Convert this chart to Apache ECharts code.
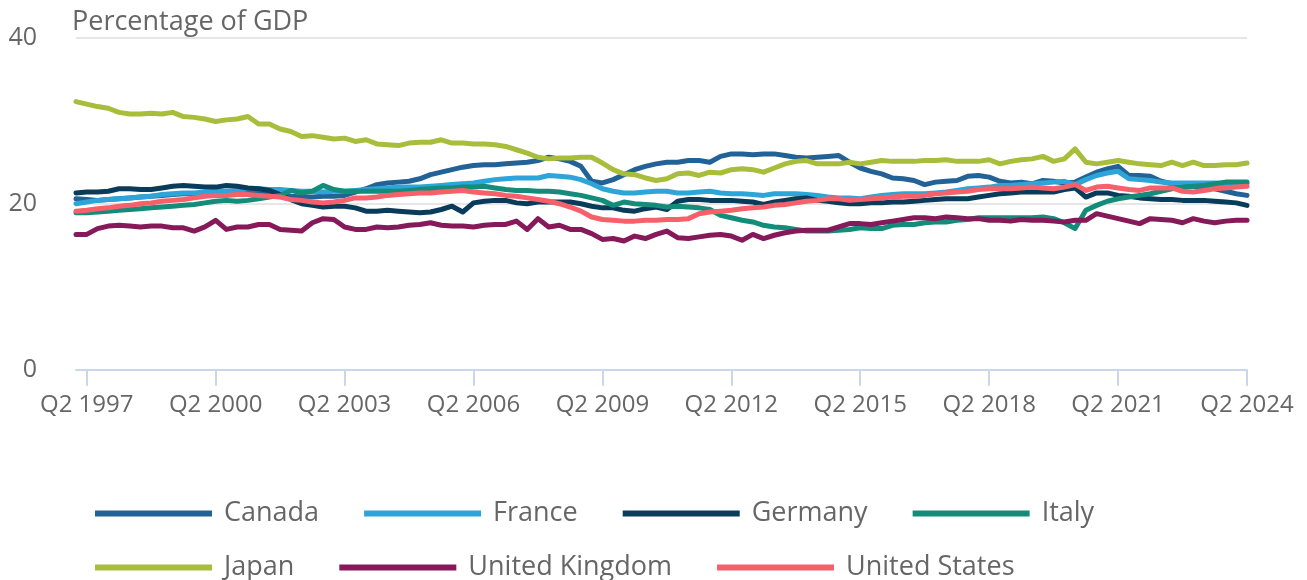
<!DOCTYPE html>
<html>
<head>
<meta charset="utf-8">
<script src="https://cdn.jsdelivr.net/npm/echarts@6/dist/echarts.min.js"></script>
<style>
html,body{margin:0;padding:0;background:#fff;}
#chart{width:1307px;height:580px;}
</style>
</head>
<body>
<div id="chart"></div>
<script>
// Quarterly categories Q1 1997 .. Q2 2024
const firstYear = 1997, lastYear = 2024, lastQuarter = 2;
const categories = [];
for (let y = firstYear; y <= lastYear; y++) {
  for (let q = 1; q <= 4; q++) {
    if (y === lastYear && q > lastQuarter) break;
    categories.push('Q' + q + ' ' + y);
  }
}
const yTicks = [0, 20, 40];
const axisTitle = 'Percentage of GDP';
const seriesNames = ['Canada', 'France', 'Germany', 'Italy', 'Japan', 'United Kingdom', 'United States'];

const canada = [
20.6,20.5,20.4,20.5,20.6,20.7,20.8,20.9,21.0,21.1,
21.2,21.2,21.3,21.4,21.4,21.5,21.5,21.4,21.3,21.1,
20.9,20.8,20.8,20.9,20.9,21.0,21.4,21.8,22.3,22.5,
22.6,22.7,23.0,23.5,23.8,24.1,24.4,24.6,24.7,24.7,
24.8,24.9,25.0,25.2,25.6,25.4,25.1,24.5,22.7,22.5,
22.9,23.5,24.1,24.5,24.8,25.0,25.0,25.2,25.2,25.0,
25.7,26.0,26.0,25.9,26.0,26.0,25.8,25.6,25.5,25.6,
25.7,25.8,25.0,24.3,23.9,23.6,23.1,23.0,22.8,22.3,
22.6,22.7,22.8,23.3,23.4,23.2,22.7,22.5,22.6,22.4,
22.8,22.7,22.5,22.6,23.2,23.8,24.2,24.5,23.4,23.4,
23.3,22.7,22.4,22.2,22.1,22.0,21.8,21.5,21.2,21.0];
const france = [
20.0,20.2,20.4,20.5,20.6,20.7,20.8,20.9,21.1,21.2,
21.3,21.3,21.4,21.5,21.5,21.6,21.8,21.8,21.7,21.7,
21.6,21.5,21.5,21.4,21.5,21.5,21.6,21.7,21.8,21.9,
22.0,22.0,22.0,22.1,22.2,22.3,22.4,22.5,22.7,22.9,
23.0,23.1,23.1,23.1,23.4,23.3,23.2,22.9,22.4,21.8,
21.5,21.3,21.3,21.4,21.5,21.5,21.3,21.3,21.4,21.5,
21.3,21.2,21.2,21.1,21.0,21.2,21.2,21.2,21.1,21.0,
20.8,20.7,20.7,20.6,20.8,21.0,21.1,21.2,21.2,21.2,
21.3,21.4,21.6,21.8,21.9,22.0,22.2,22.2,22.3,22.4,
22.5,22.6,22.7,22.3,22.9,23.4,23.7,23.9,23.0,22.9,
22.8,22.6,22.5,22.5,22.5,22.5,22.5,22.4,22.4,22.4];
const germany = [
21.3,21.4,21.4,21.5,21.8,21.8,21.7,21.7,21.9,22.1,
22.2,22.1,22.0,22.0,22.2,22.1,21.9,21.8,21.6,21.1,
20.5,20.0,19.8,19.6,19.7,19.7,19.5,19.1,19.1,19.2,
19.1,19.0,18.9,19.0,19.3,19.7,19.0,20.1,20.3,20.4,
20.4,20.1,20.0,20.2,20.2,20.2,20.2,20.0,19.7,19.5,
19.5,19.2,19.1,19.4,19.6,19.3,20.3,20.5,20.5,20.4,
20.4,20.4,20.3,20.2,19.9,20.2,20.4,20.6,20.7,20.4,
20.3,20.1,20.0,20.0,20.1,20.1,20.2,20.2,20.3,20.4,
20.5,20.6,20.6,20.6,20.8,21.0,21.2,21.3,21.4,21.4,
21.4,21.4,21.7,21.9,20.8,21.3,21.3,21.0,20.9,20.7,
20.6,20.5,20.5,20.4,20.4,20.4,20.3,20.2,20.1,19.8];
const italy = [
18.9,18.9,19.0,19.1,19.2,19.3,19.4,19.5,19.6,19.7,
19.8,19.9,20.1,20.3,20.4,20.3,20.4,20.6,20.8,21.0,
21.6,21.3,21.5,22.2,21.7,21.5,21.5,21.5,21.5,21.5,
21.5,21.6,21.7,21.8,21.9,21.9,22.0,22.0,22.1,21.9,
21.7,21.6,21.6,21.5,21.5,21.4,21.2,21.0,20.7,20.4,
19.8,20.2,20.0,19.9,19.8,19.6,19.7,19.6,19.5,19.3,
18.6,18.3,18.0,17.8,17.4,17.2,17.1,16.9,16.7,16.7,
16.7,16.8,16.9,17.1,17.0,17.0,17.4,17.5,17.5,17.7,
17.8,17.8,18.0,18.1,18.3,18.3,18.3,18.3,18.3,18.3,
18.4,18.2,17.7,17.0,19.2,19.8,20.3,20.6,20.8,21.0,
21.2,21.5,21.8,22.0,22.1,22.2,22.4,22.6,22.6,22.6];
const japan = [
32.3,32.0,31.7,31.5,31.0,30.8,30.8,30.9,30.8,31.0,
30.5,30.4,30.2,29.9,30.1,30.2,30.5,29.6,29.6,29.0,
28.7,28.1,28.2,28.0,27.8,27.9,27.5,27.7,27.2,27.1,
27.0,27.3,27.4,27.4,27.7,27.3,27.3,27.2,27.2,27.1,
26.9,26.5,26.1,25.6,25.4,25.5,25.5,25.6,25.6,24.9,
24.1,23.6,23.5,23.1,22.8,23.0,23.6,23.7,23.4,23.8,
23.7,24.1,24.2,24.1,23.8,24.3,24.8,25.1,25.2,24.8,
24.8,24.8,25.0,24.8,25.0,25.2,25.1,25.1,25.1,25.2,
25.2,25.3,25.1,25.1,25.1,25.3,24.8,25.1,25.3,25.4,
25.7,25.1,25.4,26.6,25.0,24.8,25.0,25.2,25.0,24.8,
24.7,24.6,25.0,24.6,25.0,24.6,24.6,24.7,24.7,24.9];
const unitedKingdom = [
16.3,16.3,17.0,17.3,17.4,17.3,17.2,17.3,17.3,17.1,
17.1,16.7,17.2,18.0,16.9,17.2,17.2,17.5,17.5,16.9,
16.8,16.7,17.7,18.2,18.1,17.2,16.9,16.9,17.2,17.1,
17.2,17.4,17.5,17.7,17.4,17.3,17.3,17.2,17.4,17.5,
17.5,17.9,16.9,18.2,17.2,17.4,16.9,16.9,16.4,15.7,
15.8,15.5,16.1,15.8,16.3,16.7,15.9,15.8,16.0,16.2,
16.3,16.1,15.6,16.3,15.8,16.2,16.5,16.7,16.8,16.8,
16.8,17.2,17.6,17.6,17.5,17.7,17.9,18.1,18.3,18.3,
18.2,18.4,18.3,18.2,18.2,18.0,18.0,17.9,18.1,18.0,
18.0,17.9,17.8,18.0,18.0,18.8,18.5,18.2,17.9,17.6,
18.2,18.1,18.0,17.7,18.2,17.9,17.7,17.9,18.0,18.0];
const unitedStates = [
19.1,19.2,19.4,19.5,19.7,19.8,20.0,20.1,20.3,20.4,
20.5,20.7,20.9,21.0,21.0,21.1,21.1,21.0,20.9,20.8,
20.5,20.4,20.2,20.1,20.2,20.4,20.7,20.7,20.8,21.0,
21.1,21.2,21.3,21.3,21.4,21.5,21.6,21.4,21.3,21.2,
21.0,20.9,20.7,20.5,20.3,20.0,19.6,19.1,18.4,18.1,
18.0,17.9,17.9,18.0,18.0,18.1,18.1,18.2,18.8,19.0,
19.1,19.2,19.4,19.5,19.6,19.8,19.9,20.1,20.3,20.4,
20.6,20.6,20.4,20.5,20.6,20.7,20.8,20.9,20.9,21.0,
21.2,21.3,21.4,21.5,21.7,21.8,21.8,21.8,21.9,22.0,
21.9,21.8,22.0,22.3,21.6,22.0,22.1,21.9,21.7,21.6,
21.9,21.9,21.9,21.5,21.4,21.6,21.8,21.9,22.0,22.1];

const seriesValues = [canada, france, germany, italy, japan, unitedKingdom, unitedStates];
const colors = ['#226296', '#2ea5d8', '#083c5a', '#138c7a', '#a8be3a', '#85195a', '#f5606a'];

const FONT = '"Open Sans", "Noto Sans", sans-serif';
const chart = echarts.init(document.getElementById('chart'), null, {renderer: 'canvas'});

const isQ2Tick = (idx) => (idx - 1) % 12 === 0;

const legendCommon = {
  left: 95,
  padding: 0,
  orient: 'horizontal',
  icon: 'rect',
  itemWidth: 117,
  itemHeight: 6,
  itemGap: 45,
  selectedMode: false,
  textStyle: {fontFamily: FONT, fontSize: 27, color: '#666666', padding: [0, 0, 0, 7]}
};

chart.setOption({
  animation: false,
  color: colors,
  title: {
    text: axisTitle,
    left: 72, top: 9, padding: 0,
    textStyle: {fontFamily: FONT, fontSize: 27, fontWeight: 'normal', color: '#666666'}
  },
  legend: [
    Object.assign({}, legendCommon, {top: 500, data: seriesNames.slice(0, 4)}),
    Object.assign({}, legendCommon, {top: 554, data: seriesNames.slice(4)})
  ],
  grid: {left: 76, right: 60, top: 37.7, bottom: 210.3, containLabel: false},
  xAxis: {
    type: 'category',
    data: categories,
    boundaryGap: false,
    axisLine: {show: true, lineStyle: {color: '#ccd6eb', width: 2}},
    axisTick: {show: true, length: 16, interval: (i) => isQ2Tick(i), lineStyle: {color: '#ccd6eb', width: 2}},
    axisLabel: {
      interval: (i) => isQ2Tick(i),
      fontFamily: FONT, fontSize: 24, color: '#666666', margin: 23
    },
    splitLine: {show: false}
  },
  yAxis: {
    type: 'value',
    min: yTicks[0], max: yTicks[yTicks.length - 1], interval: 20,
    axisLine: {show: false},
    axisTick: {show: false},
    axisLabel: {fontFamily: FONT, fontSize: 25, color: '#666666', margin: 39, padding: [6, 0, 0, 0]},
    splitLine: {show: true, lineStyle: {color: '#e6e6e6', width: 2}}
  },
  series: seriesNames.map((name, k) => ({
    name: name,
    type: 'line',
    data: seriesValues[k],
    showSymbol: false,
    symbol: 'none',
    lineStyle: {width: 5, color: colors[k], join: 'round', cap: 'round'},
    itemStyle: {color: colors[k]},
    emphasis: {disabled: true}
  }))
});
</script>
</body>
</html>
